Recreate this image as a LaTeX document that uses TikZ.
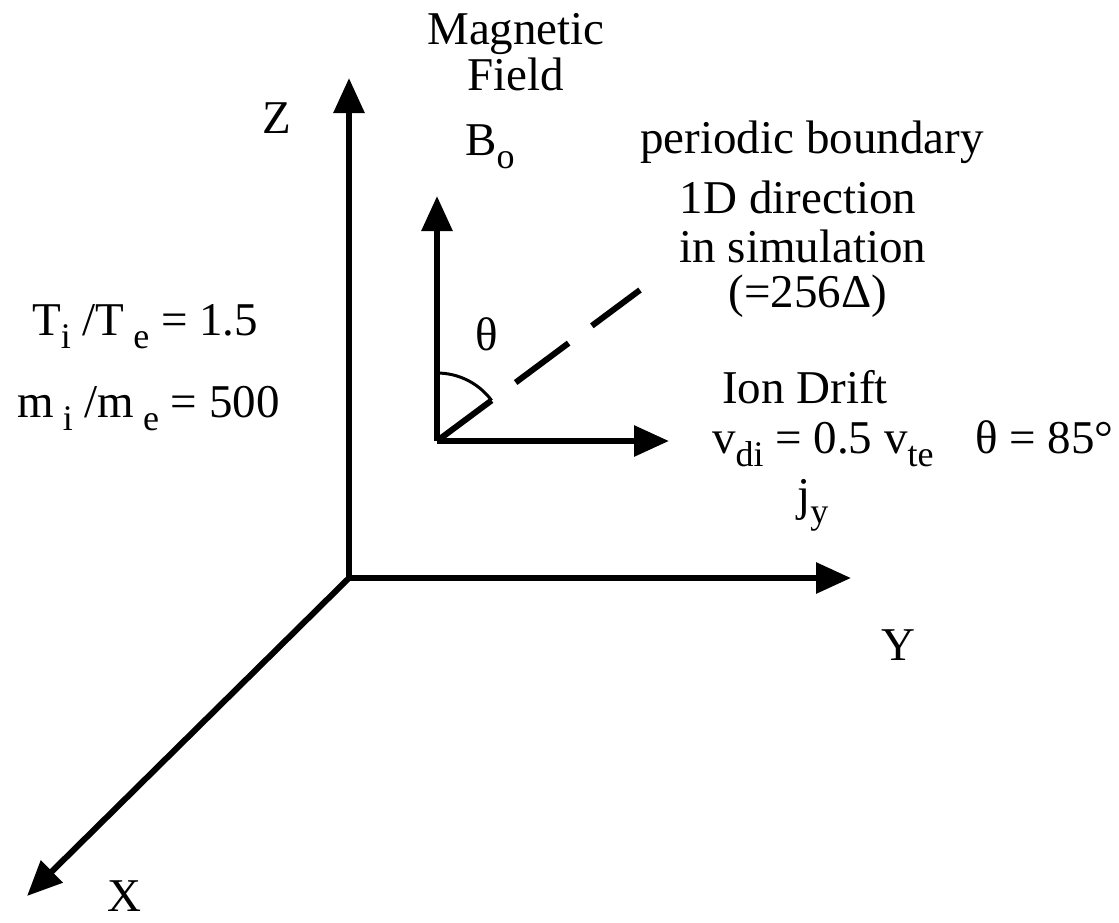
\documentclass[tikz,border=0pt]{standalone}
\usepackage{fontspec}
\setmainfont{Liberation Serif}
\usetikzlibrary{arrows.meta,calc}
\newcommand{\lowsub}[1]{\raisebox{-0.28em}{\fontsize{36}{36}\selectfont #1}}
\tikzset{
  lbl/.style={inner sep=0pt, anchor=base, font=\fontsize{47}{48}\selectfont},
  lbll/.style={lbl, anchor=base west},
  axis/.style={line width=6pt, -{Triangle[length=35pt,width=30pt]}},
  plain/.style={line width=6pt},
}
\begin{document}
\begin{tikzpicture}[x=1pt,y=-1pt]
\useasboundingbox (0,0) rectangle (1119,922);
% main axes
\coordinate (O) at (349,578);
\coordinate (Zt) at (349,78);
\coordinate (Yt) at (851,578);
\coordinate (Xt) at (27,896);
\draw[axis] (O) -- (Zt);
\draw[axis] (O) -- (Yt);
\draw[axis] (O) -- (Xt);
% small frame
\coordinate (S) at (437,441);
\coordinate (Bt) at (437,196);
\coordinate (Dt) at (669,441);
\coordinate (P) at (640,290);
\coordinate (A) at ($(S)+(0,-68)$);
\draw[axis] (S) -- (Bt);
\draw[axis] (S) -- (Dt);
\draw[plain, dash pattern=on 68pt off 30pt on 66pt off 29pt on 80pt] (S) -- (P);
\draw[line width=3pt] (A) arc[start angle=-90, end angle=-36.6, radius=68];
% labels
\node[lbl] (z) at (277,133) {Z};
\node[lbl] (y) at (898,660) {Y};
\node[lbl] (x) at (124,911) {X};
\node[lbl] (mag) at (516,44) {Magnetic};
\node[lbl] (fld) at (516,90) {Field};
\node[lbll] (b0) at (465,155) {B\lowsub{o}};
\node[lbl] (pb) at (812,153) {periodic boundary};
\node[lbl] (d1) at (798,213) {1D direction};
\node[lbl] (d2) at (803,262) {in simulation};
\node[lbl] (d3) at (808,307) {(=256Δ)};
\node[lbl] (th) at (487,350) {θ};
\node[lbll] (ti) at (32,335) {T\lowsub{i} /T\lowsub{ e} = 1.5};
\node[lbll] (mi) at (17,417) {m\lowsub{ i} /m\lowsub{ e} = 500};
\node[lbl] (ion) at (805,403) {Ion Drift};
\node[lbll] (vdi) at (712,453) {v\lowsub{di} = 0.5 v\lowsub{te}};
\node[lbll] (th85) at (975,453) {θ = 85°};
\node[lbll] (jy) at (797,510) {j\lowsub{y}};
\end{tikzpicture}
\end{document}
